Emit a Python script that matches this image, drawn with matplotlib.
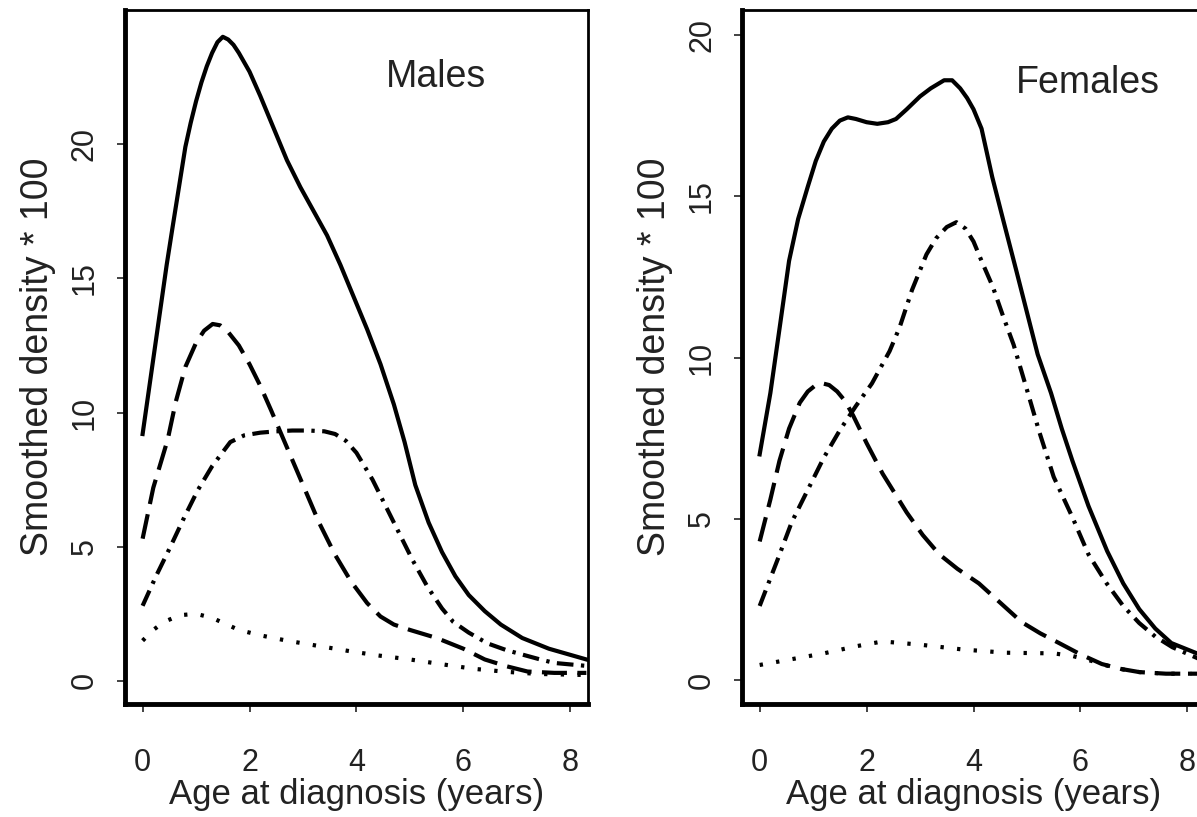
import matplotlib
matplotlib.use("Agg")
import matplotlib.pyplot as plt

plt.rcParams["font.family"] = ["Liberation Sans", "DejaVu Sans"]

# ---- Males (density * 100) ----
m_solid_x = [0, 0.15, 0.3, 0.45, 0.56, 0.68, 0.8, 0.9, 1.0, 1.1, 1.2, 1.3, 1.4, 1.5, 1.6, 1.7,
             1.8, 2.0, 2.2, 2.45, 2.7, 2.95, 3.2, 3.45, 3.7, 3.95, 4.2, 4.45, 4.7, 4.9, 5.1,
             5.35, 5.6, 5.85, 6.1, 6.4, 6.7, 7.1, 7.6, 8.3]
m_solid_y = [9.2, 11.3, 13.4, 15.5, 16.9, 18.4, 19.9, 20.8, 21.6, 22.3, 22.9, 23.4, 23.8, 24.0, 23.9, 23.7,
             23.4, 22.7, 21.8, 20.6, 19.4, 18.4, 17.5, 16.6, 15.5, 14.3, 13.1, 11.8, 10.3, 8.9, 7.3,
             5.9, 4.8, 3.9, 3.2, 2.6, 2.1, 1.6, 1.2, 0.8]

m_dash_x = [0, 0.2, 0.47, 0.62, 0.8, 1.0, 1.15, 1.31, 1.45, 1.6, 1.8, 2.0, 2.2, 2.4, 2.7, 3.0,
            3.3, 3.6, 3.9, 4.2, 4.45, 4.7, 5.0, 5.5, 6.0, 6.4, 6.8, 7.2, 7.7, 8.3]
m_dash_y = [5.3, 7.2, 9.0, 10.4, 11.7, 12.6, 13.05, 13.3, 13.25, 13.0, 12.5, 11.8, 11.0, 10.1, 8.7, 7.3,
            5.9, 4.7, 3.7, 2.9, 2.4, 2.1, 1.9, 1.6, 1.2, 0.8, 0.55, 0.35, 0.3, 0.3]

m_dashdot_x = [0, 0.25, 0.52, 0.78, 1.03, 1.3, 1.64, 1.9, 2.2, 2.5, 2.8, 3.1, 3.4, 3.6, 3.8, 4.0,
               4.3, 4.55, 4.8, 5.05, 5.33, 5.6, 5.81, 6.1, 6.45, 6.8, 7.07, 7.4, 7.7, 8.3]
m_dashdot_y = [2.8, 3.9, 5.0, 6.1, 7.1, 8.0, 8.9, 9.15, 9.25, 9.3, 9.33, 9.33, 9.3, 9.2, 8.95, 8.5,
               7.5, 6.5, 5.5, 4.5, 3.5, 2.7, 2.2, 1.8, 1.4, 1.15, 1.0, 0.82, 0.67, 0.56]

m_dot_x = [0, 0.2, 0.4, 0.7, 1.0, 1.3, 1.8, 2.2, 2.7, 3.3, 3.9, 4.4, 5.0, 5.6, 6.2, 6.8, 7.4, 8.3]
m_dot_y = [1.5, 1.9, 2.2, 2.45, 2.5, 2.35, 1.9, 1.7, 1.5, 1.3, 1.1, 0.95, 0.8, 0.62, 0.45, 0.34, 0.26, 0.22]

# ---- Females ----
f_solid_x = [0, 0.2, 0.38, 0.55, 0.72, 0.9, 1.05, 1.2, 1.35, 1.5, 1.65, 1.8, 2.0, 2.2, 2.4, 2.55,
             2.75, 3.0, 3.2, 3.45, 3.6, 3.75, 3.88, 4.0, 4.15, 4.35, 4.55, 4.8, 5.0, 5.2, 5.45,
             5.65, 5.85, 6.15, 6.5, 6.8, 7.1, 7.4, 7.7, 8.3]
f_solid_y = [7.0, 8.9, 11.0, 13.0, 14.3, 15.3, 16.1, 16.7, 17.1, 17.35, 17.45, 17.4, 17.3, 17.25, 17.3, 17.4,
             17.7, 18.1, 18.35, 18.6, 18.6, 18.35, 18.05, 17.7, 17.1, 15.6, 14.3, 12.7, 11.4, 10.1, 8.9,
             7.8, 6.8, 5.4, 4.0, 3.0, 2.2, 1.6, 1.15, 0.75]

f_dash_x = [0, 0.2, 0.37, 0.55, 0.75, 0.9, 1.05, 1.18, 1.3, 1.45, 1.6, 1.75, 2.0, 2.3, 2.75, 3.05,
            3.36, 3.7, 4.1, 4.5, 4.9, 5.25, 5.6, 6.0, 6.4, 6.75, 7.1, 7.6, 8.3]
f_dash_y = [4.3, 5.6, 6.8, 7.8, 8.6, 8.95, 9.15, 9.2, 9.15, 8.95, 8.65, 8.2, 7.35, 6.4, 5.2, 4.5,
            3.9, 3.45, 3.0, 2.4, 1.8, 1.45, 1.15, 0.8, 0.5, 0.35, 0.25, 0.2, 0.2]

f_dashdot_x = [0, 0.35, 0.6, 0.9, 1.2, 1.5, 1.8, 2.1, 2.43, 2.62, 2.85, 3.12, 3.3, 3.5, 3.68, 3.85,
               4.0, 4.15, 4.36, 4.55, 4.75, 5.0, 5.23, 5.5, 5.85, 6.15, 6.49, 6.8, 7.1, 7.4, 7.72, 8.3]
f_dashdot_y = [2.3, 3.8, 4.9, 5.9, 6.9, 7.75, 8.5, 9.2, 10.2, 10.95, 12.1, 13.2, 13.7, 14.05, 14.2, 14.0,
               13.6, 13.0, 12.2, 11.3, 10.4, 9.0, 7.7, 6.3, 5.05, 3.9, 3.0, 2.3, 1.77, 1.35, 1.02, 0.6]

f_dot_x = [0, 0.6, 1.2, 1.8, 2.3, 3.0, 3.8, 4.6, 5.5, 5.85, 6.2, 6.5, 6.8, 7.1, 7.6, 8.3]
f_dot_y = [0.47, 0.65, 0.83, 1.05, 1.2, 1.1, 0.95, 0.85, 0.83, 0.75, 0.6, 0.45, 0.33, 0.25, 0.2, 0.2]

x_ticks = [0, 2, 4, 6, 8]
m_yticks = [0, 5, 10, 15, 20]
f_yticks = [0, 5, 10, 15, 20]

STYLES = {
    "solid": "-",
    "dash": (0, (6, 2.5)),
    "dashdot": (0, (4, 1.8, 0.8, 1.8)),
    "dot": (0, (0.8, 3.2)),
}


def draw_panel(ax, series, title, title_xy, ylim, yticks):
    for (xs, ys), key in zip(series, ["solid", "dash", "dashdot", "dot"]):
        ax.plot(xs, ys, color="black", linewidth=3, linestyle=STYLES[key],
                solid_joinstyle="round")
    ax.set_xlim(-0.33, 8.33)
    ax.set_ylim(*ylim)
    ax.set_xticks(x_ticks)
    ax.set_yticks(yticks)
    for side in ["left", "bottom"]:
        ax.spines[side].set_linewidth(3.5)
    for side in ["top", "right"]:
        ax.spines[side].set_linewidth(2)
    ax.tick_params(axis="x", length=6, width=1.2, pad=26, labelsize=22, colors="#222222")
    ax.tick_params(axis="y", length=6, width=1.2, pad=12, labelsize=22, colors="#222222")
    for lab in ax.get_yticklabels():
        lab.set_rotation(90)
        lab.set_va("center")
    ax.set_xlabel("Age at diagnosis (years)", fontsize=25, color="#222222", labelpad=0)
    ax.set_ylabel("Smoothed density * 100", fontsize=27, color="#222222", labelpad=10)
    ax.text(title_xy[0], title_xy[1], title, fontsize=27, color="#222222",
            ha="center", va="center")


fig = plt.figure(figsize=(11.97, 8.17), dpi=100)
ax1 = fig.add_axes([0.1044, 0.1383, 0.3868, 0.8495])
ax2 = fig.add_axes([0.6199, 0.1383, 0.3868, 0.8495])

draw_panel(ax1,
           [(m_solid_x, m_solid_y), (m_dash_x, m_dash_y),
            (m_dashdot_x, m_dashdot_y), (m_dot_x, m_dot_y)],
           "Males", (5.48, 22.5), (-0.86, 25.0), m_yticks)
draw_panel(ax2,
           [(f_solid_x, f_solid_y), (f_dash_x, f_dash_y),
            (f_dashdot_x, f_dashdot_y), (f_dot_x, f_dot_y)],
           "Females", (6.13, 18.5), (-0.74, 20.78), f_yticks)

fig.savefig("out.png", dpi=100)
